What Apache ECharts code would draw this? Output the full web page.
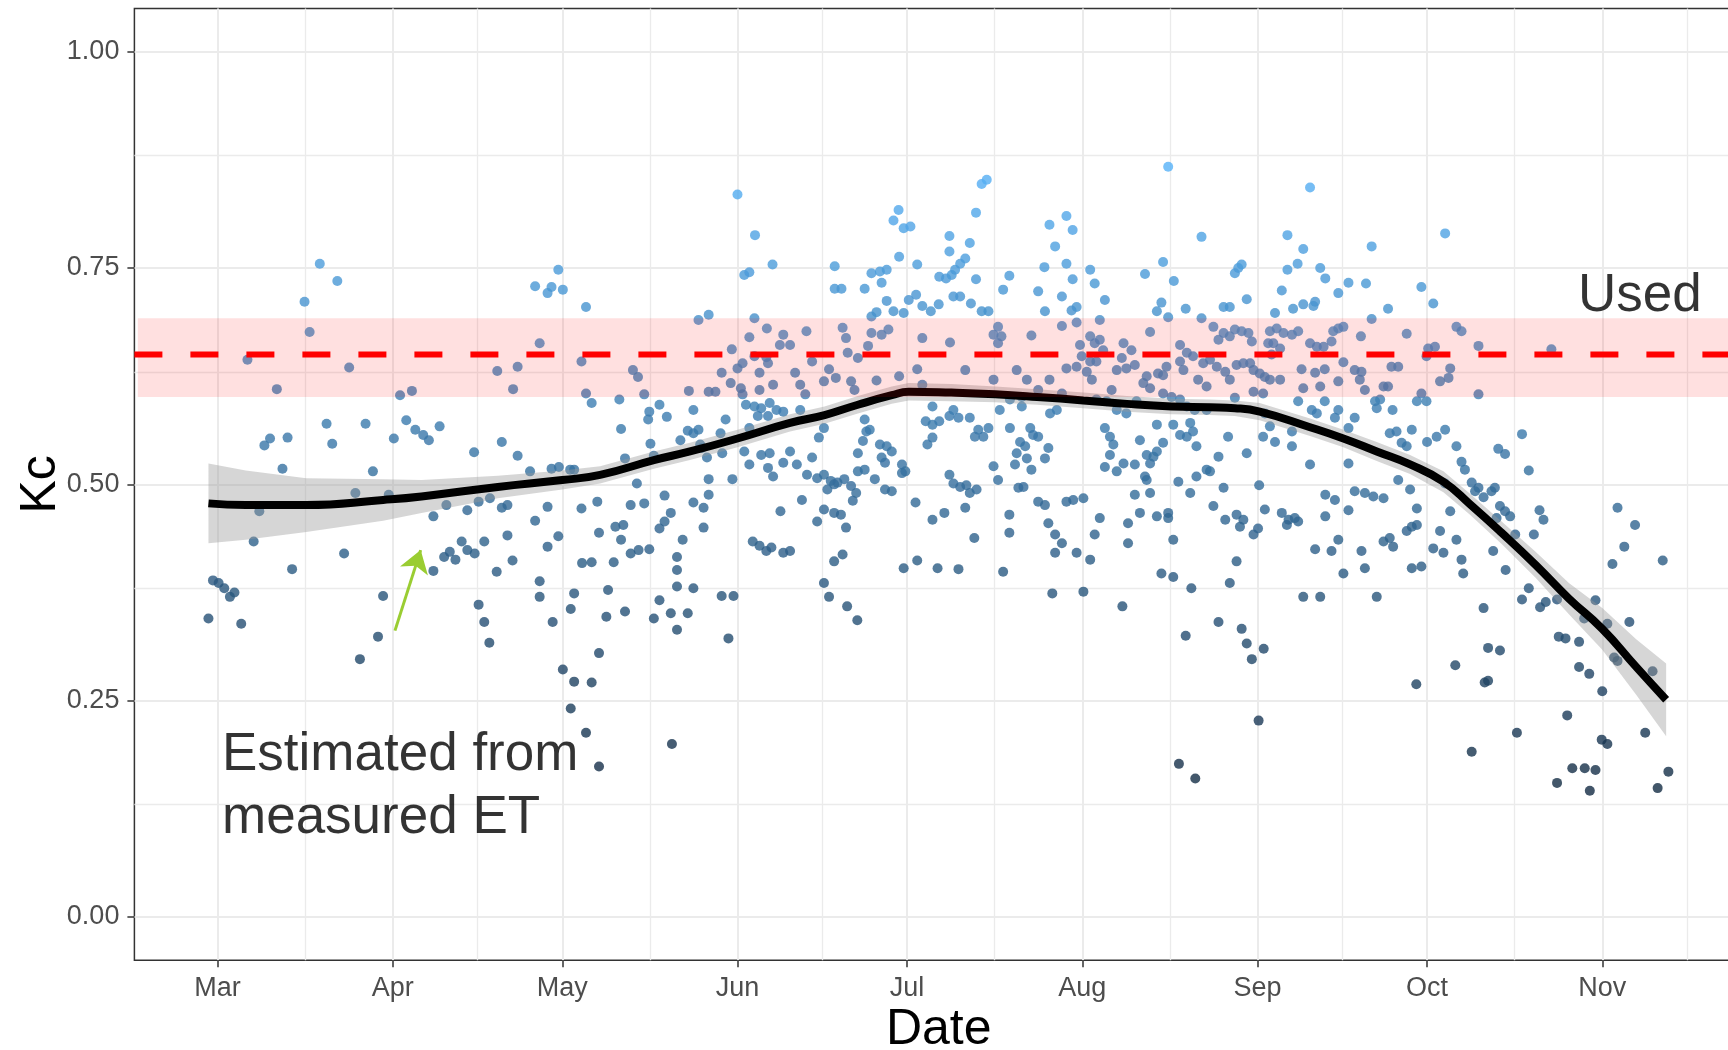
<!DOCTYPE html>
<html>
<head>
<meta charset="utf-8">
<script src="https://cdn.jsdelivr.net/npm/echarts@6/dist/echarts.min.js"></script>
<style>
html,body{margin:0;padding:0;background:#ffffff;}
#chart{width:1728px;height:1050px;}
</style>
</head>
<body>
<div id="chart"></div>
<script>
// ---- axis definitions (days counted from 1 March) ----
const monthLabels = ['Mar','Apr','May','Jun','Jul','Aug','Sep','Oct','Nov'];
const monthStartDays = [0,31,61,92,122,153,184,214,245];
const minorGridDays = [15.5,46,76.5,107,137.5,168.5,199,229.5,260];
const yTickValues = [0,0.25,0.5,0.75,1];
const yMinorValues = [0.125,0.375,0.625,0.875];
const xMin = -14.7, xMax = 269.9;
const yMin = -0.05, yMax = 1.05;

// ---- Kc estimated from measured ET: [day since 1 Mar, Kc] ----
const ptsMarApr = [[-1.6,0.345],[-0.8,0.389],[0.2,0.386],[1.2,0.380],[2.2,0.370],[3.0,0.375],[4.2,0.339],[5.3,0.644],[6.4,0.434],[7.4,0.469],[8.3,0.545],[9.3,0.553],[10.5,0.610],[11.5,0.518],[12.4,0.554],[13.2,0.402],[15.4,0.711],[16.3,0.676],[18.1,0.755],[19.3,0.570],[20.3,0.547],[21.2,0.735],[22.4,0.420],[23.3,0.635],[24.4,0.490],[25.2,0.298],[26.2,0.570],[27.5,0.515],[28.4,0.324],[29.3,0.371],[30.3,0.488],
[31.2,0.553],[32.3,0.603],[33.4,0.574],[34.4,0.608],[35.0,0.563],[36.4,0.557],[37.4,0.551],[38.2,0.463],[38.2,0.400],[39.3,0.567],[40.1,0.416],[40.5,0.476],[41.1,0.422],[42.1,0.413],[43.2,0.434],[44.2,0.424],[44.2,0.470],[45.4,0.537],[45.5,0.420],[46.2,0.480],[46.2,0.361],[47.2,0.341],[47.2,0.434],[48.1,0.317],[48.2,0.484],[49.4,0.399],[49.5,0.631],[50.3,0.549],[50.3,0.473],[51.3,0.476],[51.3,0.441],[52.2,0.412],[52.3,0.610],[53.1,0.636],[53.1,0.533],[55.3,0.515],[56.2,0.458],[56.2,0.729],[57.0,0.388],[57.0,0.370],[57.0,0.663],[58.4,0.474],[58.4,0.428],[58.4,0.721],[59.1,0.518],[59.1,0.728],[59.3,0.341],[60.3,0.440],[60.3,0.748]];

const ptsMay = [[60.4,0.520],[61.1,0.286],[61.1,0.725],[62.4,0.517],[62.5,0.356],[62.5,0.241],[63.1,0.517],[63.1,0.272],[63.1,0.374],[64.4,0.472],[64.4,0.642],[64.5,0.409],[65.2,0.605],[65.2,0.705],[65.2,0.213],[66.2,0.594],[66.2,0.410],[66.2,0.271],[67.2,0.480],[67.5,0.444],[67.5,0.305],[67.5,0.174],
[73.5,0.632],[74.4,0.624],[75.5,0.604],[78.2,0.592],[76.4,0.584],[76.2,0.575],[71.4,0.564],[83.2,0.562],[72.1,0.530],[77.2,0.533],[81.9,0.551],[74.2,0.501],[73.1,0.476],[75.5,0.478],[79.1,0.487],[80.2,0.467],[79.1,0.457],[78.2,0.449],[70.4,0.451],[71.8,0.453],[71.4,0.436],[70.1,0.410],[73.1,0.420],[74.5,0.424],[76.4,0.425],[81.3,0.416],[82.3,0.436],[81.3,0.401],[69.1,0.378],[81.3,0.382],[68.8,0.347],[72.1,0.353],[77.2,0.345],[78.2,0.366],[80.2,0.351],[81.3,0.332],[83.2,0.351],[80.4,0.200],[71.1,0.598],[76.6,0.547],[79.5,0.578],[83.4,0.608]];

const ptsJun = [[92.0,0.835],[95.1,0.788],[93.2,0.742],[94.1,0.745],[98.2,0.754],[109.2,0.752],[109.2,0.726],[110.4,0.726],[120.5,0.817],[119.6,0.805],[121.4,0.796],[122.6,0.798],[120.6,0.763],[123.8,0.754],[129.5,0.787],[129.5,0.769],[127.7,0.740],[128.9,0.738],[115.7,0.744],[117.2,0.746],[118.4,0.748],[114.5,0.726],[117.5,0.733],[118.4,0.712],[119.6,0.700],[121.4,0.698],[122.3,0.713],[123.6,0.719],[124.7,0.706],[126.2,0.700],[127.6,0.708],[116.6,0.699],[115.7,0.694],[86.9,0.696],[85.1,0.690],[95.0,0.692],[97.2,0.680],[94.1,0.670],[100.1,0.673],[101.3,0.661],[99.5,0.661],[104.2,0.677],[91.0,0.656],[92.0,0.634],[92.9,0.640],[89.2,0.629],[95.9,0.629],[97.4,0.640],[95.0,0.648],[97.1,0.647],[90.8,0.617],[92.6,0.611],[86.9,0.607],[88.1,0.607],[95.9,0.609],[98.3,0.615],[102.2,0.629],[103.1,0.615],[104.0,0.604],[105.2,0.642],[107.3,0.619],[108.2,0.633],[109.4,0.623],[110.6,0.681],[111.2,0.669],[111.5,0.652],[113.3,0.646],[112.1,0.619],[112.7,0.609],[115.7,0.675],[117.5,0.673],[118.7,0.679],[115.1,0.660],[116.6,0.620],[120.6,0.625],[123.8,0.633],[124.7,0.669],[124.7,0.615],
[84.2,0.586],[89.9,0.575],[92.9,0.604],[93.5,0.592],[95.0,0.590],[96.2,0.588],[97.7,0.594],[98.9,0.586],[100.1,0.584],[95.6,0.579],[97.4,0.579],[103.1,0.586],[114.5,0.575],[115.4,0.563],[126.5,0.590],[125.3,0.573],[126.5,0.569],[127.7,0.573],[129.5,0.579],[125.6,0.546],[126.5,0.554],[85.1,0.563],[84.2,0.559],[89.0,0.559],[85.4,0.546],[85.7,0.542],[94.1,0.565],[89.3,0.536],[93.2,0.538],[96.2,0.534],[97.7,0.536],[100.1,0.525],[101.3,0.538],[102.5,0.523],[105.2,0.531],[106.4,0.554],[107.3,0.565],[113.3,0.536],[114.2,0.550],[114.8,0.561],[117.2,0.546],[118.4,0.544],[119.3,0.538],[117.5,0.531],[118.1,0.525],[121.1,0.523],[121.7,0.515],[129.5,0.511],[86.6,0.531],[94.1,0.523],[97.4,0.519],[98.3,0.509],[86.9,0.506],[91.1,0.506],[104.3,0.511],[106.1,0.507],[107.3,0.511],[108.5,0.504],[109.7,0.502],[110.9,0.506],[107.9,0.494],[109.1,0.500],[112.1,0.498],[113.0,0.490],[113.3,0.515],[114.5,0.517],[116.3,0.506],[118.1,0.494],[119.3,0.492],[121.1,0.513],[84.2,0.479],[86.0,0.473],[86.9,0.488],[103.4,0.482],[112.4,0.481],[123.5,0.479],[99.6,0.469],[107.3,0.471],[106.1,0.457],[109.1,0.467],[110.3,0.465],[111.2,0.450],[126.5,0.459],[128.6,0.467],[86.0,0.450],[94.7,0.434],[95.9,0.429],[97.1,0.423],[98.0,0.427],[100.1,0.421],[101.3,0.423],[109.1,0.411],[110.6,0.419],[121.4,0.403],[123.8,0.412],[127.4,0.403],[84.2,0.380],[107.3,0.386],[108.2,0.370],[89.2,0.371],[91.3,0.371],[90.4,0.322],[111.4,0.359],[113.2,0.343]];

const ptsJulAug = [[135.2,0.847],[136.1,0.852],[134.2,0.814],[133.1,0.779],[132.3,0.761],[131.4,0.755],[130.5,0.748],[129.9,0.742],[134.2,0.737],[130.2,0.717],[131.4,0.717],[133.3,0.709],[135.2,0.700],[136.4,0.700],[140.1,0.741],[139.0,0.725],[147.2,0.800],[150.2,0.810],[151.3,0.794],[148.2,0.775],[146.3,0.751],[150.2,0.755],[151.3,0.737],[145.2,0.723],[149.4,0.717],[146.4,0.700],[152.0,0.705],[151.1,0.701],[154.4,0.748],[155.2,0.732],[157.0,0.713],[156.1,0.690],[149.4,0.683],[152.0,0.687],[138.1,0.682],[137.3,0.673],[138.7,0.671],[138.1,0.663],[144.0,0.672],[164.1,0.743],[167.3,0.757],[169.2,0.735],[174.1,0.786],[171.3,0.703],[167.0,0.710],[166.2,0.700],[168.2,0.693],[165.0,0.676],[174.1,0.692],[152.6,0.661],[154.4,0.671],[155.2,0.663],[156.1,0.667],[156.7,0.655],[152.9,0.648],[154.4,0.642],[155.5,0.642],[153.8,0.630],[154.7,0.621],[150.2,0.634],[152.0,0.636],[160.3,0.663],[161.7,0.655],[160.0,0.646],[159.1,0.632],[160.8,0.634],[162.3,0.638],[164.4,0.625],[163.8,0.617],[166.4,0.628],[165.0,0.611],[167.3,0.605],[170.3,0.661],[171.5,0.652],[170.3,0.642],[170.9,0.632],[172.6,0.648],[174.4,0.640],[173.5,0.621],[175.0,0.613],[167.3,0.626],[167.9,0.636],[141.4,0.632],[143.2,0.621],[147.2,0.621],[137.3,0.621],[132.3,0.632],[129.6,0.664],[145.2,0.609],[142.3,0.601],[140.2,0.598],[138.4,0.586],[149.4,0.605],[158.2,0.609],[155.5,0.598],[157.3,0.596],[159.1,0.586],[160.8,0.582],[162.6,0.596],[168.8,0.601],[170.3,0.598],[171.5,0.590],[172.9,0.586],[175.0,0.586],[130.2,0.586],[131.1,0.577],[133.1,0.577],[134.6,0.563],[135.5,0.555],[136.4,0.565],[134.0,0.555],[140.2,0.565],[142.3,0.590],[143.8,0.565],[144.3,0.557],[145.2,0.555],[142.0,0.549],[142.9,0.544],[141.4,0.536],[143.2,0.530],[147.0,0.542],[146.4,0.530],[147.3,0.582],[148.5,0.586],[137.3,0.521],[138.1,0.505],[141.1,0.523],[144.0,0.517],[157.0,0.565],[157.9,0.555],[158.5,0.546],[157.9,0.534],[157.0,0.520],[159.1,0.515],[160.3,0.524],[162.3,0.523],[163.2,0.551],[164.4,0.534],[165.6,0.532],[165.0,0.524],[166.2,0.538],[164.1,0.509],[164.4,0.505],[167.3,0.548],[166.2,0.569],[169.1,0.569],[170.3,0.557],[171.5,0.555],[172.1,0.571],[172.6,0.561],[173.2,0.544],[175.0,0.517],[173.2,0.509],[172.1,0.490],[170.0,0.503],[165.0,0.490],[162.3,0.488],[130.2,0.501],[131.4,0.497],[132.5,0.499],[133.1,0.490],[134.3,0.494],[132.3,0.473],[141.7,0.496],[142.6,0.497],[145.2,0.480],[146.4,0.476],[150.2,0.480],[151.4,0.482],[153.2,0.484],[140.1,0.465],[147.0,0.455],[148.2,0.442],[149.4,0.432],[148.2,0.421],[156.1,0.461],[155.2,0.442],[152.0,0.421],[154.4,0.413],[161.1,0.455],[161.1,0.432],[163.2,0.467],[166.2,0.463],[168.2,0.467],[168.2,0.461],[169.1,0.436],[133.9,0.438],[140.1,0.444],[131.1,0.402],[139.0,0.399],[153.2,0.376],[167.0,0.397],[169.1,0.393],[172.3,0.380],[147.7,0.374],[160.1,0.359],[171.3,0.325],[170.1,0.177],[173.0,0.160],[168.2,0.867]];

const ptsSepOct = [[193.3,0.843],[189.3,0.788],[192.1,0.772],[191.1,0.755],[189.3,0.748],[204.2,0.775],[217.2,0.790],[180.6,0.750],[181.2,0.754],[180.0,0.744],[195.1,0.750],[196.0,0.738],[188.3,0.724],[200.1,0.733],[198.3,0.721],[203.2,0.732],[213.0,0.728],[215.1,0.709],[178.0,0.705],[179.1,0.705],[182.1,0.714],[187.1,0.698],[190.3,0.703],[192.1,0.708],[194.2,0.711],[193.9,0.706],[207.1,0.703],[204.2,0.691],[219.2,0.682],[220.1,0.677],[176.2,0.682],[178.0,0.675],[177.1,0.667],[179.1,0.671],[180.0,0.679],[181.2,0.677],[182.4,0.675],[183.0,0.665],[186.2,0.677],[187.4,0.680],[188.6,0.675],[190.1,0.673],[191.2,0.677],[186.8,0.663],[188.0,0.657],[185.9,0.663],[186.5,0.650],[193.3,0.663],[194.5,0.659],[195.7,0.659],[197.4,0.677],[198.3,0.680],[199.2,0.682],[197.1,0.665],[202.3,0.671],[210.4,0.674],[214.2,0.657],[215.4,0.659],[175.6,0.644],[176.8,0.636],[178.3,0.630],[179.1,0.621],[180.3,0.638],[181.5,0.640],[182.7,0.640],[183.3,0.632],[184.4,0.628],[185.3,0.624],[186.2,0.621],[188.0,0.621],[191.8,0.633],[194.2,0.629],[195.9,0.633],[195.1,0.613],[192.1,0.611],[198.3,0.619],[199.2,0.641],[201.2,0.632],[202.4,0.630],[202.1,0.621],[203.0,0.609],[206.3,0.613],[207.1,0.613],[207.7,0.636],[208.9,0.636],[213.9,0.648],[218.1,0.634],[217.8,0.623],[216.3,0.619],[183.3,0.607],[185.0,0.605],[180.0,0.600],[191.2,0.596],[195.9,0.596],[204.8,0.596],[205.7,0.598],[205.1,0.588],[207.9,0.586],[212.2,0.596],[213.9,0.596],[213.0,0.605],[193.6,0.586],[194.5,0.582],[198.3,0.586],[197.7,0.577],[201.2,0.577],[185.3,0.582],[186.2,0.567],[185.0,0.555],[187.1,0.549],[190.1,0.561],[190.1,0.544],[178.8,0.555],[182.1,0.536],[177.1,0.532],[175.6,0.515],[193.3,0.523],[200.1,0.565],[200.1,0.524],[207.4,0.559],[208.6,0.561],[209.5,0.548],[210.4,0.544],[211.3,0.563],[214.0,0.549],[215.7,0.555],[217.2,0.563],[219.2,0.544],[220.1,0.526],[220.7,0.517],[217.2,0.501],[208.9,0.505],[211.0,0.494],[201.2,0.492],[203.0,0.490],[204.5,0.486],[206.3,0.484],[196.0,0.488],[197.7,0.482],[178.0,0.496],[184.3,0.499],[176.2,0.475],[185.3,0.471],[200.1,0.470],[212.2,0.472],[218.1,0.469],[178.3,0.459],[180.3,0.465],[181.5,0.459],[180.9,0.451],[183.3,0.442],[184.1,0.449],[188.3,0.467],[189.5,0.459],[190.6,0.461],[191.2,0.457],[189.2,0.453],[196.0,0.463],[198.3,0.436],[197.1,0.423],[194.2,0.425],[202.4,0.423],[203.0,0.403],[199.2,0.397],[206.3,0.434],[207.4,0.438],[208.0,0.428],[210.4,0.446],[211.3,0.451],[212.2,0.453],[211.3,0.403],[213.0,0.405],[216.3,0.446],[215.1,0.426],[216.9,0.421],[219.2,0.436],[220.1,0.413],[220.4,0.397],[180.3,0.411],[179.1,0.386],[192.1,0.370],[195.1,0.370],[205.1,0.370],
[177.1,0.341],[181.2,0.333],[182.1,0.316],[183.0,0.298],[185.1,0.310],[212.1,0.269],[219.0,0.291],[184.2,0.227],[221.9,0.191]];

const ptsOctNov = [[223.1,0.660],[236.0,0.656],[223.1,0.604],[230.8,0.558],[232.0,0.516],[226.0,0.496],[225.4,0.492],[224.0,0.485],[221.9,0.502],[223.1,0.496],[222.5,0.492],[226.6,0.541],[227.8,0.535],[233.9,0.470],[234.6,0.459],[232.9,0.442],[226.9,0.475],[227.8,0.469],[228.7,0.463],[229.6,0.442],[226.3,0.461],[225.7,0.423],[227.9,0.401],[247.7,0.473],[250.8,0.453],[248.9,0.428],[246.8,0.408],[255.7,0.412],[232.0,0.380],[230.8,0.367],[235.0,0.364],[234.0,0.358],[237.0,0.367],[243.8,0.366],[224.0,0.357],[237.3,0.324],[238.5,0.322],[240.9,0.318],[241.8,0.345],[245.9,0.339],[249.8,0.341],[224.8,0.311],[226.9,0.308],[224.2,0.271],[224.8,0.273],[240.9,0.289],[242.7,0.281],[247.1,0.300],[247.7,0.296],[245.0,0.261],[253.9,0.284],[229.9,0.213],[238.8,0.233],[237.0,0.155],[239.7,0.172],[241.9,0.172],[243.8,0.170],[242.8,0.146],[244.9,0.205],[245.9,0.200],[252.6,0.213],[254.8,0.149],[256.7,0.168]];

// ---- loess smooth and its standard-error half width ----
const smoothDays = [-1.6,5,15.7,29.3,36.1,49.6,61,67.7,77.2,83.6,92,101.3,107.4,113.3,119.3,122.3,129.8,137.6,145,153.2,160.9,168.8,175.6,180,184.4,193.3,199.2,205.1,211,216.9,221.6,227.2,233.2,239.1,245,251,256.3];
const smoothKc = [0.478,0.476,0.476,0.482,0.486,0.497,0.505,0.511,0.528,0.538,0.553,0.571,0.580,0.592,0.603,0.607,0.606,0.604,0.601,0.597,0.593,0.590,0.589,0.588,0.584,0.566,0.553,0.538,0.523,0.503,0.477,0.444,0.407,0.368,0.333,0.289,0.251];
const smoothSe = [0.046,0.040,0.031,0.024,0.019,0.013,0.011,0.010,0.010,0.010,0.010,0.010,0.010,0.010,0.010,0.010,0.010,0.009,0.009,0.009,0.009,0.009,0.009,0.009,0.010,0.010,0.010,0.011,0.011,0.012,0.012,0.013,0.015,0.018,0.024,0.032,0.042];

// ---- "Used" Kc and its band ----
const usedKc = 0.65;
const usedBandLow = 0.601;
const usedBandHigh = 0.692;
const usedBandStartDay = -14.1;

// ---- annotations ----
const annotationTexts = ['Estimated from\nmeasured ET', 'Used'];
const annotationPos = [[0.8, 0.150], [240.7, 0.717]];
const arrowFrom = [31.4, 0.331];
const arrowTo = [35.95, 0.424];

const FONT = '"Liberation Sans", Arial, sans-serif';
const allPoints = [].concat(ptsMarApr, ptsMay, ptsJun, ptsJulAug, ptsSepOct, ptsOctNov);
const kcVals = allPoints.map(p => p[1]);
const kcMin = Math.min.apply(null, kcVals);
const kcMax = Math.max.apply(null, kcVals);

const gridLineData = [].concat(
  monthStartDays.map(d => ({xAxis: d, lineStyle: {color: '#EBEBEB', width: 2, type: 'solid'}})),
  minorGridDays.map(d => ({xAxis: d, lineStyle: {color: '#EBEBEB', width: 1.3, type: 'solid'}})),
  yTickValues.map(v => ({yAxis: v, lineStyle: {color: '#EBEBEB', width: 2, type: 'solid'}})),
  yMinorValues.map(v => ({yAxis: v, lineStyle: {color: '#EBEBEB', width: 1.3, type: 'solid'}}))
);

const chart = echarts.init(document.getElementById('chart'), null, {renderer: 'canvas'});
chart.setOption({
  animation: false,
  backgroundColor: '#ffffff',
  grid: {left: 134.4, top: 8.4, right: -15, bottom: 89.7, containLabel: false, outerBoundsMode: 'none', show: true, borderColor: '#333333', borderWidth: 1.5, backgroundColor: 'transparent'},
  xAxis: {
    type: 'value', min: xMin, max: xMax,
    axisLine: {show: false, onZero: false}, splitLine: {show: false},
    axisTick: {show: true, inside: false, customValues: monthStartDays, length: 7, lineStyle: {color: '#333333', width: 1.5}},
    axisLabel: {customValues: monthStartDays, formatter: v => monthLabels[monthStartDays.indexOf(v)], color: '#4D4D4D', fontSize: 27, fontFamily: FONT, margin: 15},
    name: 'Date', nameLocation: 'middle', nameGap: 45, nameMoveOverlap: false,
    nameTextStyle: {fontSize: 50, color: '#000000', fontFamily: FONT}
  },
  yAxis: {
    type: 'value', min: yMin, max: yMax,
    axisLine: {show: false, onZero: false}, splitLine: {show: false},
    axisTick: {show: true, inside: false, customValues: yTickValues, length: 7, lineStyle: {color: '#333333', width: 1.5}},
    axisLabel: {customValues: yTickValues, formatter: v => v.toFixed(2), color: '#4D4D4D', fontSize: 27, fontFamily: FONT, margin: 15},
    name: 'Kc', nameLocation: 'middle', nameGap: 68, nameMoveOverlap: false,
    nameTextStyle: {fontSize: 50, color: '#000000', fontFamily: FONT}
  },
  visualMap: {
    show: false, type: 'continuous', seriesIndex: 1, dimension: 1,
    min: kcMin, max: kcMax, inRange: {color: ['#132B43', '#56B1F7']}
  },
  series: [
    {
      type: 'line', data: [], silent: true, z: 0,
      markLine: {silent: true, symbol: 'none', z: 0, animation: false, label: {show: false}, data: gridLineData}
    },
    {
      type: 'scatter', data: allPoints, symbol: 'circle', symbolSize: 10, z: 2, silent: true
    },
    {
      type: 'custom', z: 3, silent: true, clip: true, data: [[smoothDays[0], smoothKc[0]]],
      renderItem: function (params, api) {
        const upper = smoothDays.map((d, i) => api.coord([d, smoothKc[i] + smoothSe[i]]));
        const lower = smoothDays.map((d, i) => api.coord([d, smoothKc[i] - smoothSe[i]])).reverse();
        return {type: 'polygon', shape: {points: upper.concat(lower)}, style: {fill: 'rgba(153,153,153,0.4)'}};
      }
    },
    {
      type: 'line', z: 4, silent: true, symbol: 'none', smooth: 0.5,
      data: smoothDays.map((d, i) => [d, smoothKc[i]]),
      lineStyle: {color: '#000000', width: 8}
    },
    {
      type: 'custom', z: 5, silent: true, clip: true, data: [[usedBandStartDay, usedBandHigh]],
      renderItem: function (params, api) {
        const p1 = api.coord([usedBandStartDay, usedBandHigh]);
        const p2 = api.coord([xMax, usedBandLow]);
        return {type: 'rect', shape: {x: p1[0], y: p1[1], width: p2[0] - p1[0], height: p2[1] - p1[1]}, style: {fill: 'rgba(255,0,0,0.12)'}};
      }
    },
    {
      type: 'line', z: 6, silent: true, symbol: 'none',
      data: [[xMin, usedKc], [xMax, usedKc]],
      lineStyle: {color: '#FF0000', width: 6, type: [28, 28]}
    },
    {
      type: 'scatter', z: 7, silent: true, symbolSize: 0,
      data: annotationPos,
      label: {
        show: true, position: 'right', distance: 0,
        formatter: p => annotationTexts[p.dataIndex],
        fontSize: 53, lineHeight: 63, color: '#000000', fontFamily: FONT, align: 'left', verticalAlign: 'middle'
      }
    },
    {
      type: 'line', data: [], silent: true, z: 8,
      markLine: {
        silent: true, z: 8, animation: false,
        symbol: ['none', 'arrow'], symbolSize: 22,
        label: {show: false},
        lineStyle: {color: '#9ACD32', width: 3, type: 'solid'},
        data: [[{coord: arrowFrom}, {coord: arrowTo}]]
      }
    }
  ]
});
</script>
</body>
</html>
